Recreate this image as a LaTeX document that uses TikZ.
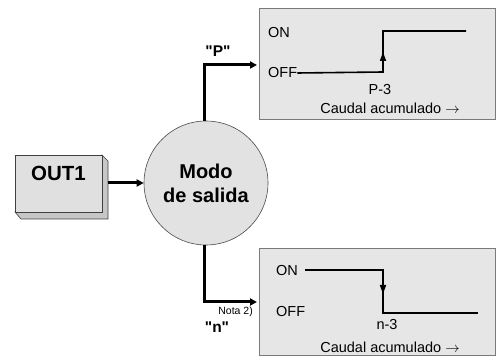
\documentclass[tikz,border=0pt]{standalone}
\usepackage{fontspec}
\setmainfont{Liberation Sans}[Ligatures=TeXOff]
\usetikzlibrary{arrows.meta}
\definecolor{boxfill}{HTML}{E6E6E6}
\definecolor{boxline}{HTML}{7A7A7A}
\definecolor{circfill}{HTML}{E2E2E2}
\begin{document}
\begin{tikzpicture}[x=1pt,y=-1pt,
  conn/.style={line width=3pt,-{Triangle[length=7pt,width=7pt]}},
  stepline/.style={line width=1.6pt},
  panel/.style={draw=boxline,fill=boxfill,line width=0.8pt},
  lbl/.style={font=\fontsize{14.5}{16}\selectfont,inner sep=0pt},
  blbl/.style={font=\fontsize{15.5}{17}\selectfont\bfseries,inner sep=0pt}]
\useasboundingbox (0,0) rectangle (501,358);
% OUT1 box with 3D edge
\fill[fill=black!22,draw=black!75,line width=0.6pt] (102,155) -- (108,161) -- (108,219) -- (21,219) -- (15,212) -- (102,212) -- cycle;
\node[draw=black!75,fill=black!12,line width=0.6pt,minimum width=87pt,minimum height=57pt,inner sep=0pt,anchor=north west] (out) at (15,155) {};
\node[font=\fontsize{20.5}{22}\selectfont\bfseries,inner sep=0pt] (outt) at (58.5,173) {OUT1};
% circle
\node[circle,draw=black!70,fill=circfill,line width=0.6pt,minimum size=124pt,inner sep=0pt,align=center,
  font=\fontsize{20}{24}\selectfont\bfseries] (modo) at (206,183) {Modo\\de salida};
\draw[conn] (108,183) -- (modo.west);
% panels
\node[panel,anchor=north west,minimum width=236pt,minimum height=111pt,inner sep=0pt] (pbox) at (259,8) {};
\node[panel,anchor=north west,minimum width=236pt,minimum height=107pt,inner sep=0pt] (nbox) at (259,248) {};
% connectors
\coordinate (ptop) at (204,65);
\coordinate (nbot) at (204,302);
\draw[conn] (modo.north -| ptop) -- (ptop) -- (257,65);
\draw[conn] (modo.south -| nbot) -- (nbot) -- (257,302);
\node[blbl] (plbl) at (218,51) {"P"};
\node[blbl] (nlbl) at (217,327) {"n"};
\node[font=\fontsize{10.5}{12}\selectfont,inner sep=0pt,anchor=east] (nota) at (253,312) {Nota 2)};
% upper graph
\node[lbl,anchor=west] (on1) at (268,33) {ON};
\node[lbl,anchor=west] (off1) at (268,73) {OFF};
\coordinate (p1) at (383,72);
\coordinate (p2) at (383,31);
\coordinate (p3) at (466,31);
\draw[stepline] (off1.east) -- (p1) -- (p2) -- (p3);
\draw[line width=1.6pt,-{Triangle[length=9pt,width=6pt]}] (p1) -- ++(0,-20);
\node[lbl] (p3lbl) at (380,90) {P-3};
\node[lbl] (cau1) at (390,108) {Caudal acumulado $\rightarrow$};
% lower graph
\node[lbl,anchor=west] (on2) at (276,271) {ON};
\node[lbl,anchor=west] (off2) at (276,312) {OFF};
\coordinate (q0) at (305,270);
\coordinate (q1) at (383,270);
\coordinate (q2) at (383,313);
\coordinate (q3) at (478,313);
\draw[stepline] (q0) -- (q1) -- (q2) -- (q3);
\draw[line width=1.6pt,-{Triangle[length=9pt,width=6pt]}] (q1) -- ++(0,24);
\node[lbl] (n3lbl) at (387,325) {n-3};
\node[lbl] (cau2) at (390,347) {Caudal acumulado $\rightarrow$};
\end{tikzpicture}
\end{document}
